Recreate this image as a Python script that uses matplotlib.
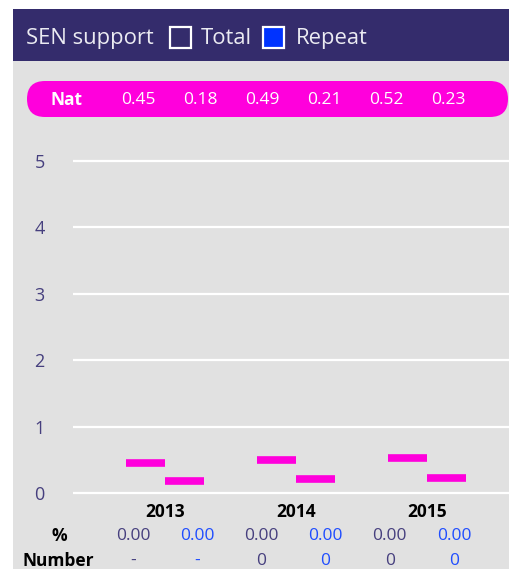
import matplotlib
matplotlib.use("Agg")
import matplotlib.pyplot as plt
from matplotlib.patches import Rectangle, FancyBboxPatch

plt.rcParams['font.family'] = ['Open Sans', 'DejaVu Sans']

# ---- data ----
years = ["2013", "2014", "2015"]
total_vals = [0.00, 0.00, 0.00]
repeat_vals = [0.00, 0.00, 0.00]
nat_total = [0.45, 0.49, 0.52]
nat_repeat = [0.18, 0.21, 0.23]
pct_total = ["0.00", "0.00", "0.00"]
pct_repeat = ["0.00", "0.00", "0.00"]
num_total = ["-", "0", "0"]
num_repeat = ["-", "0", "0"]
y_ticks = [0, 1, 2, 3, 4, 5]

# ---- colours ----
NAVY = "#342c6c"
PANEL = "#e1e1e1"
MAGENTA = "#ff00dc"
BLUE = "#0033ff"
BLUE_TXT = "#1f4dff"
SLATE = "#463f7e"

TXT = 12.5

W, H = 510, 569
fig = plt.figure(figsize=(W / 100, H / 100), dpi=100)
fig.patch.set_facecolor("white")

# background layer in pixel coordinates (origin top-left)
bg = fig.add_axes([0, 0, 1, 1])
bg.set_xlim(0, W)
bg.set_ylim(H, 0)
bg.axis("off")

bg.add_patch(Rectangle((13, 61), W - 13, H - 61, color=PANEL, lw=0))
bg.add_patch(Rectangle((13, 9), W - 13, 52, color=NAVY, lw=0))

# header with legend
bg.text(26, 38, "SEN support", color="#ebebf2", fontsize=15.8, va="center", ha="left")
bg.add_patch(Rectangle((170.5, 26.5), 21, 21, facecolor=NAVY, edgecolor="white", lw=1.6))
bg.text(201, 38, "Total", color="#ebebf2", fontsize=15.8, va="center", ha="left")
bg.add_patch(Rectangle((263.5, 26.5), 21, 21, facecolor=BLUE, edgecolor="white", lw=1.6))
bg.text(296, 38, "Repeat", color="#ebebf2", fontsize=15.8, va="center", ha="left")

# national average pill
bg.add_patch(FancyBboxPatch((27, 81), 481, 36,
                            boxstyle="round,pad=0,rounding_size=18",
                            facecolor=MAGENTA, edgecolor="none"))
bg.text(67, 100, "Nat", color="white", fontsize=TXT, fontweight="bold",
        va="center", ha="center")
nat_cols = [138 + 62 * i for i in range(6)]
nat_vals = [v for pair in zip(nat_total, nat_repeat) for v in pair]
for x, v in zip(nat_cols, nat_vals):
    bg.text(x, 100, f"{v:.2f}", color="white", fontsize=TXT, va="center", ha="center")

# table rows under the chart
bg.text(59, 536, "%", color="black", fontsize=TXT, fontweight="bold", va="center", ha="center")
bg.text(23, 561, "Number", color="black", fontsize=TXT, fontweight="bold", va="center", ha="left")
pct_cols = [133 + 64.2 * i for i in range(6)]
for i in range(len(years)):
    bg.text(pct_cols[2 * i], 536, pct_total[i], color=SLATE, fontsize=TXT, va="center", ha="center")
    bg.text(pct_cols[2 * i + 1], 536, pct_repeat[i], color=BLUE_TXT, fontsize=TXT, va="center", ha="center")
    bg.text(pct_cols[2 * i], 561, num_total[i], color=SLATE, fontsize=TXT, va="center", ha="center")
    bg.text(pct_cols[2 * i + 1], 561, num_repeat[i], color=BLUE_TXT, fontsize=TXT, va="center", ha="center")

# ---- main chart ----
ax_left, ax_right = 73, 510
ax_top, ax_bot = 135, 500
ax = fig.add_axes([ax_left / W, 1 - ax_bot / H, (ax_right - ax_left) / W, (ax_bot - ax_top) / H])
ax.set_facecolor("none")
for s in ax.spines.values():
    s.set_visible(False)

y0_px, y5_px = 493, 161
ppu = (y0_px - y5_px) / 5
ax.set_ylim(-(ax_bot - y0_px) / ppu, 5 + (y5_px - ax_top) / ppu)

c0, step = 165, 131
ax.set_xlim((ax_left - c0) / step, (ax_right - c0) / step)

ax.set_yticks(y_ticks)
ax.set_yticklabels([str(t) for t in y_ticks])
ax.tick_params(axis="y", length=0, pad=24, labelcolor=SLATE, labelsize=13)
for lbl in ax.get_yticklabels():
    lbl.set_horizontalalignment("center")
ax.yaxis.grid(True, color="white", lw=1.6)
ax.set_axisbelow(True)

xs = list(range(len(years)))
bw = 0.3
ax.bar([x - bw / 2 for x in xs], total_vals, width=bw, color=NAVY, edgecolor="white", lw=0)
ax.bar([x + bw / 2 for x in xs], repeat_vals, width=bw, color=BLUE, edgecolor="white", lw=0)

# national average markers
ax.hlines(nat_total, [x - bw for x in xs], xs, colors=MAGENTA, lw=5.5, capstyle="butt", zorder=3)
ax.hlines(nat_repeat, xs, [x + bw for x in xs], colors=MAGENTA, lw=5.5, capstyle="butt", zorder=3)

ax.set_xticks(xs)
ax.set_xticklabels(years, fontweight="bold", fontsize=TXT, color="black")
ax.tick_params(axis="x", length=0, pad=2)

fig.savefig("out.png", dpi=100, facecolor="white")
